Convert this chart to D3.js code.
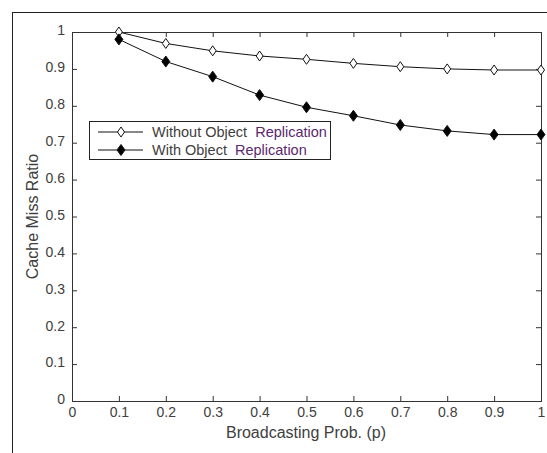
<!DOCTYPE html>
<html>
<head>
<meta charset="utf-8">
<script src="https://cdn.jsdelivr.net/npm/d3@7"></script>
<style>
  body { margin: 0; background: #fff; }
  text { font-family: "Liberation Sans", Arial, sans-serif; }
</style>
</head>
<body>
<script>
// data
const probs = [0.1, 0.2, 0.3, 0.4, 0.5, 0.6, 0.7, 0.8, 0.9, 1.0];
const withoutRepl = [1.0, 0.969, 0.949, 0.935, 0.926, 0.915, 0.906, 0.9, 0.897, 0.897];
const withRepl = [0.98, 0.92, 0.879, 0.829, 0.796, 0.773, 0.748, 0.732, 0.722, 0.722];
const xTicks = [0, 0.1, 0.2, 0.3, 0.4, 0.5, 0.6, 0.7, 0.8, 0.9, 1];
const yTicks = [0, 0.1, 0.2, 0.3, 0.4, 0.5, 0.6, 0.7, 0.8, 0.9, 1];

const W = 547, H = 453;
const plotL = 72, plotR = 541, plotT = 32, plotB = 401;

const svg = d3.select('body').append('svg')
  .attr('width', W).attr('height', H);

// outer frame (cut by the window on right and bottom)
svg.append('rect')
  .attr('x', 12.5).attr('y', 12.5)
  .attr('width', W).attr('height', H)
  .attr('fill', 'none').attr('stroke', '#222');

const x = d3.scaleLinear().domain([0, 1]).range([plotL, plotR]);
const y = d3.scaleLinear().domain([0, 1]).range([plotB, plotT]);

const txtColor = '#404040';
const tickLen = 5;
const fmt = d => d === 0 || d === 1 ? d3.format('d')(d) : d3.format('.1f')(d);

// axes: ticks drawn inward, box on all sides
const gx = svg.append('g').attr('transform', `translate(0,${plotB})`)
  .call(d3.axisBottom(x).tickValues(xTicks).tickSize(-tickLen).tickPadding(8).tickFormat(fmt));
const gxTop = svg.append('g').attr('transform', `translate(0,${plotT})`)
  .call(d3.axisTop(x).tickValues(xTicks).tickSize(-tickLen).tickFormat(''));
const gy = svg.append('g').attr('transform', `translate(${plotL},0)`)
  .call(d3.axisLeft(y).tickValues(yTicks).tickSize(-tickLen).tickPadding(7).tickFormat(fmt));
const gyRight = svg.append('g').attr('transform', `translate(${plotR},0)`)
  .call(d3.axisRight(y).tickValues(yTicks).tickSize(-tickLen).tickFormat(''));

[gx, gxTop, gy, gyRight].forEach(g => {
  g.select('.domain').attr('stroke', '#333');
  g.selectAll('.tick line').attr('stroke', '#333');
  g.selectAll('.tick text').attr('fill', txtColor).attr('font-size', 14)
    .attr('font-family', '"Liberation Sans", Arial, sans-serif');
});
gx.selectAll('.tick text').attr('dy', '0.6em');
gy.selectAll('.tick text').attr('dy', '0.2em');

// axis titles
svg.append('text')
  .attr('x', 306).attr('y', 438)
  .attr('text-anchor', 'middle').attr('font-size', 16).attr('fill', txtColor)
  .text('Broadcasting Prob. (p)');
svg.append('text')
  .attr('transform', `translate(38,${(plotT + plotB) / 2}) rotate(-90)`)
  .attr('text-anchor', 'middle').attr('font-size', 16).attr('fill', txtColor)
  .text('Cache Miss Ratio');

// diamond marker path
const diamond = (w, h) => `M0,${-h / 2}L${w / 2},0L0,${h / 2}L${-w / 2},0Z`;

const series = [
  { name: 'Without Object', values: withoutRepl, filled: false },
  { name: 'With Object', values: withRepl, filled: true }
];

const line = d3.line().x((d, i) => x(probs[i])).y(d => y(d));

series.forEach(s => {
  svg.append('path').datum(s.values)
    .attr('d', line).attr('fill', 'none')
    .attr('stroke', '#111').attr('stroke-width', 1);
  svg.selectAll(null).data(s.values).join('path')
    .attr('transform', (d, i) => `translate(${x(probs[i])},${y(d)})`)
    .attr('d', s.filled ? diamond(8, 11) : diamond(7, 10))
    .attr('fill', s.filled ? '#000' : '#fff')
    .attr('stroke', '#111').attr('stroke-width', 1);
});

// legend
const lg = svg.append('g');
lg.append('rect')
  .attr('x', 89.5).attr('y', 121.5).attr('width', 241).attr('height', 38)
  .attr('fill', '#fff').attr('stroke', '#222');
series.forEach((s, i) => {
  const ly = 132 + i * 18;
  lg.append('line').attr('x1', 98).attr('x2', 143).attr('y1', ly).attr('y2', ly)
    .attr('stroke', '#111');
  lg.append('path').attr('transform', `translate(121,${ly})`)
    .attr('d', s.filled ? diamond(8, 11) : diamond(7, 10))
    .attr('fill', s.filled ? '#000' : '#fff').attr('stroke', '#111');
  const t = lg.append('text').attr('x', 152).attr('y', ly).attr('dy', '0.35em')
    .attr('font-size', 14.5).attr('fill', txtColor);
  t.append('tspan').text(s.name + '\u00a0\u00a0');
  t.append('tspan').attr('fill', '#5b2870').text('Replication');
});
</script>
</body>
</html>
